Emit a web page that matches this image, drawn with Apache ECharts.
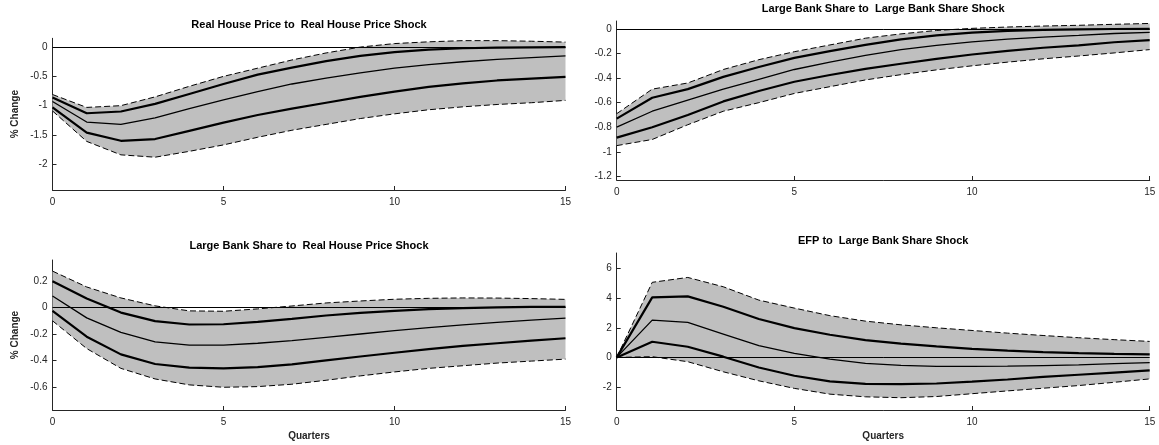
<!DOCTYPE html>
<html>
<head>
<meta charset="utf-8">
<script src="https://cdn.jsdelivr.net/npm/echarts@6/dist/echarts.min.js"></script>
<style>
  html, body { margin: 0; padding: 0; background: #fff; }
  #chart { width: 1159px; height: 445px; }
</style>
</head>
<body>
<div id="chart"></div>
<script>
// Impulse responses over 0..15 quarters: 90% band edges, 68% band edges and median.
const quarters = [0,1,2,3,4,5,6,7,8,9,10,11,12,13,14,15];

// Real House Price to Real House Price Shock
const hpHpBandHi = [-0.81,-1.03,-1.00,-0.85,-0.67,-0.50,-0.36,-0.22,-0.10,0.00,0.06,0.09,0.11,0.11,0.10,0.085];
const hpHpHi     = [-0.86,-1.13,-1.10,-0.97,-0.80,-0.63,-0.47,-0.35,-0.24,-0.15,-0.085,-0.045,-0.02,-0.01,-0.005,0.0];
const hpHpMed    = [-0.93,-1.28,-1.32,-1.21,-1.05,-0.90,-0.76,-0.63,-0.53,-0.44,-0.36,-0.30,-0.25,-0.21,-0.18,-0.15];
const hpHpLo     = [-1.03,-1.46,-1.60,-1.57,-1.43,-1.29,-1.16,-1.05,-0.95,-0.85,-0.76,-0.68,-0.62,-0.57,-0.54,-0.51];
const hpHpBandLo = [-1.09,-1.61,-1.84,-1.88,-1.78,-1.67,-1.54,-1.42,-1.32,-1.22,-1.14,-1.07,-1.02,-0.98,-0.95,-0.91];

// Large Bank Share to Large Bank Share Shock
const lbLbBandHi = [-0.69,-0.49,-0.44,-0.33,-0.25,-0.185,-0.13,-0.075,-0.04,-0.012,0.005,0.016,0.024,0.03,0.038,0.045];
const lbLbHi     = [-0.73,-0.56,-0.49,-0.39,-0.31,-0.235,-0.18,-0.13,-0.085,-0.052,-0.03,-0.016,-0.008,-0.003,0.0,0.002];
const lbLbMed    = [-0.80,-0.67,-0.58,-0.49,-0.41,-0.33,-0.27,-0.215,-0.168,-0.133,-0.105,-0.083,-0.066,-0.052,-0.037,-0.028];
const lbLbLo     = [-0.885,-0.80,-0.70,-0.59,-0.505,-0.43,-0.375,-0.325,-0.283,-0.243,-0.208,-0.178,-0.153,-0.133,-0.108,-0.09];
const lbLbBandLo = [-0.95,-0.90,-0.78,-0.67,-0.60,-0.525,-0.47,-0.415,-0.372,-0.333,-0.30,-0.27,-0.243,-0.22,-0.195,-0.168];

// Large Bank Share to Real House Price Shock
const lbHpBandHi = [0.276,0.156,0.073,0.013,-0.025,-0.028,-0.01,0.012,0.035,0.05,0.063,0.07,0.073,0.072,0.068,0.062];
const lbHpHi     = [0.20,0.068,-0.038,-0.103,-0.128,-0.126,-0.108,-0.085,-0.06,-0.04,-0.025,-0.012,-0.004,0.002,0.005,0.006];
const lbHpMed    = [0.088,-0.078,-0.188,-0.26,-0.284,-0.284,-0.27,-0.25,-0.225,-0.2,-0.175,-0.152,-0.131,-0.112,-0.095,-0.08];
const lbHpLo     = [-0.025,-0.22,-0.354,-0.427,-0.455,-0.46,-0.45,-0.43,-0.40,-0.37,-0.342,-0.315,-0.29,-0.27,-0.25,-0.232];
const lbHpBandLo = [-0.10,-0.31,-0.46,-0.54,-0.585,-0.603,-0.598,-0.58,-0.55,-0.517,-0.487,-0.46,-0.44,-0.42,-0.405,-0.39];

// EFP to Large Bank Share Shock
const efpLbBandHi = [0,5.07,5.40,4.77,3.87,3.33,2.82,2.45,2.20,2.00,1.82,1.64,1.48,1.33,1.20,1.08];
const efpLbHi     = [0,4.05,4.12,3.42,2.59,1.98,1.53,1.17,0.93,0.74,0.58,0.46,0.36,0.29,0.24,0.20];
const efpLbMed    = [0,2.52,2.36,1.58,0.79,0.27,-0.11,-0.40,-0.54,-0.60,-0.61,-0.59,-0.55,-0.50,-0.42,-0.35];
const efpLbLo     = [0,1.06,0.72,0.05,-0.68,-1.24,-1.62,-1.78,-1.80,-1.76,-1.64,-1.49,-1.32,-1.17,-1.02,-0.88];
const efpLbBandLo = [0,0.05,-0.29,-0.97,-1.58,-2.09,-2.48,-2.66,-2.72,-2.64,-2.45,-2.26,-2.08,-1.90,-1.68,-1.45];

// Panel titles and axis tick labels
const titles = [
  'Real House Price to  Real House Price Shock',
  'Large Bank Share to  Large Bank Share Shock',
  'Large Bank Share to  Real House Price Shock',
  'EFP to  Large Bank Share Shock'
];
const xTicks = [0, 5, 10, 15];
const yTicks1 = [-2, -1.5, -1, -0.5, 0];
const yTicks2 = [-1.2, -1, -0.8, -0.6, -0.4, -0.2, 0];
const yTicks3 = [-0.6, -0.4, -0.2, 0, 0.2];
const yTicks4 = [-2, 0, 2, 4, 6];

const FONT = '"Liberation Sans", Arial, Helvetica, sans-serif';
const INK = '#262626';
const BAND = '#bfbfbf';

const panels = [
  { grid: {left: 52.5, top: 38.3, width: 513, height: 151.7}, yMin: -2.44, yMax: 0.15, yTicks: yTicks1,
    lines: [hpHpBandHi, hpHpHi, hpHpMed, hpHpLo, hpHpBandLo], yName: '% Change', xName: '',
    titleTop: 19.5 },
  { grid: {left: 616.7, top: 21, width: 533, height: 159}, yMin: -1.23, yMax: 0.065, yTicks: yTicks2,
    lines: [lbLbBandHi, lbLbHi, lbLbMed, lbLbLo, lbLbBandLo], yName: '', xName: '',
    titleTop: 3 },
  { grid: {left: 52.5, top: 260, width: 513, height: 150}, yMin: -0.775, yMax: 0.36, yTicks: yTicks3,
    lines: [lbHpBandHi, lbHpHi, lbHpMed, lbHpLo, lbHpBandLo], yName: '% Change', xName: 'Quarters',
    titleTop: 240.5 },
  { grid: {left: 616.7, top: 253, width: 533, height: 157}, yMin: -3.55, yMax: 7.05, yTicks: yTicks4,
    lines: [efpLbBandHi, efpLbHi, efpLbMed, efpLbLo, efpLbBandLo], yName: '', xName: 'Quarters',
    titleTop: 235 }
];

const pairs = arr => quarters.map((q, i) => [q, arr[i]]);

const grid = [], xAxis = [], yAxis = [], title = [], series = [];

panels.forEach((p, k) => {
  grid.push(p.grid);
  title.push({
    text: titles[k],
    left: p.grid.left + p.grid.width / 2,
    top: p.titleTop,
    textAlign: 'center',
    padding: 0,
    textStyle: { fontFamily: FONT, fontSize: 11, fontWeight: 'bold', color: '#000' }
  });
  xAxis.push({
    gridIndex: k, type: 'value', min: 0, max: 15, interval: 5,
    name: p.xName, nameLocation: 'middle', nameGap: 21,
    nameTextStyle: { fontFamily: FONT, fontSize: 10, fontWeight: 'bold', color: INK },
    axisLine: { show: true, onZero: false, lineStyle: { color: INK, width: 1 } },
    axisTick: { show: true, inside: true, length: 4, lineStyle: { color: INK } },
    axisLabel: { fontFamily: FONT, fontSize: 10, color: INK, margin: 7,
                 customValues: xTicks },
    splitLine: { show: false }
  });
  yAxis.push({
    gridIndex: k, type: 'value', min: p.yMin, max: p.yMax,
    name: p.yName, nameLocation: 'middle', nameGap: 32,
    nameTextStyle: { fontFamily: FONT, fontSize: 10, fontWeight: 'bold', color: INK },
    axisLine: { show: true, onZero: false, lineStyle: { color: INK, width: 1 } },
    axisTick: { show: true, inside: true, length: 4, lineStyle: { color: INK },
                customValues: p.yTicks },
    axisLabel: { fontFamily: FONT, fontSize: 10, color: INK, margin: 5,
                 customValues: p.yTicks },
    splitLine: { show: false }
  });

  const [bandHi, hi, med, lo, bandLo] = p.lines;
  const common = { xAxisIndex: k, yAxisIndex: k, symbol: 'none',
                   silent: true, animation: false };

  // shaded 90% band: polygon along the upper edge and back along the lower edge
  series.push({
    type: 'custom', xAxisIndex: k, yAxisIndex: k, silent: true, animation: false, z: 1,
    data: quarters.map((q, i) => [q, bandLo[i], bandHi[i]]),
    encode: { x: 0, y: [1, 2] },
    renderItem: (params, api) => {
      if (params.dataIndex !== 0) return null;
      const upper = quarters.map((q, i) => api.coord([q, bandHi[i]]));
      const lower = quarters.map((q, i) => api.coord([q, bandLo[i]])).reverse();
      return {
        type: 'polygon',
        shape: { points: upper.concat(lower) },
        style: { fill: BAND, stroke: null }
      };
    }
  });
  // band edges; the zero reference line rides on the first one
  series.push(Object.assign({ type: 'line' }, common, {
    data: pairs(bandHi), lineStyle: { color: '#000', width: 1, type: [6, 3] }, z: 3,
    markLine: {
      silent: true, symbol: 'none', animation: false,
      label: { show: false },
      lineStyle: { color: '#000', width: 1, type: 'solid' },
      data: [{ yAxis: 0 }]
    }
  }));
  series.push(Object.assign({ type: 'line' }, common, {
    data: pairs(bandLo), lineStyle: { color: '#000', width: 1, type: [6, 3] }, z: 3
  }));
  // 68% band edges
  [hi, lo].forEach(arr => series.push(Object.assign({ type: 'line' }, common, {
    data: pairs(arr), lineStyle: { color: '#000', width: 2.2 }, z: 4
  })));
  // median
  series.push(Object.assign({ type: 'line' }, common, {
    data: pairs(med), lineStyle: { color: '#000', width: 1.3 }, z: 4
  }));
});

const chart = echarts.init(document.getElementById('chart'), null, { renderer: 'canvas' });
chart.setOption({
  backgroundColor: '#fff',
  animation: false,
  textStyle: { fontFamily: FONT },
  title, grid, xAxis, yAxis, series
});
</script>
</body>
</html>
